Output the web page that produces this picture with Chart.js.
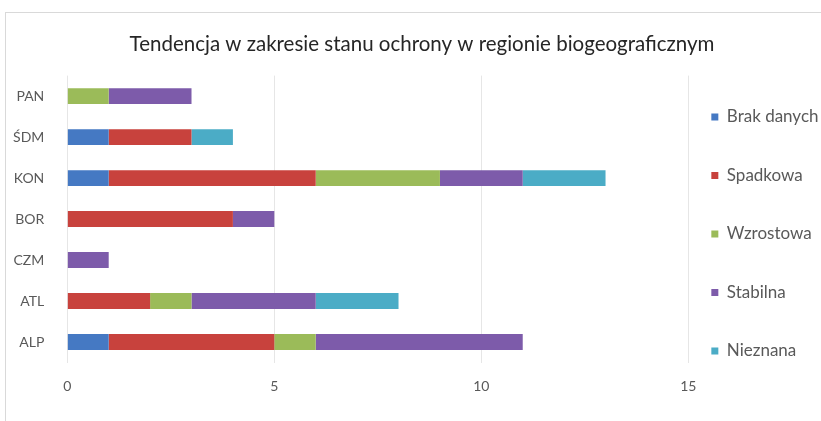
<!DOCTYPE html>
<html>
<head>
<meta charset="utf-8">
<script src="https://cdn.jsdelivr.net/npm/chart.js@4"></script>
<style>
  html, body { margin: 0; padding: 0; overflow: hidden; background: #fff; }
  #box { position: absolute; left: 5px; top: 12px; width: 830px; height: 420px; border: 1px solid #d9d9d9; }
</style>
</head>
<body>
<div id="box"><canvas id="myChart" width="830" height="404"></canvas></div>
<script>
// regions (top to bottom as in the picture)
const regions = ['PAN', 'ŚDM', 'KON', 'BOR', 'CZM', 'ATL', 'ALP'];

// number of habitats per trend category
const brakDanych = [0, 1, 1, 0, 0, 0, 1];
const spadkowa   = [0, 2, 5, 4, 0, 2, 4];
const wzrostowa  = [1, 0, 3, 0, 0, 1, 1];
const stabilna   = [2, 0, 2, 1, 1, 3, 5];
const nieznana   = [0, 1, 2, 0, 0, 2, 0];

const xTicks = [0, 5, 10, 15];

const font = "Lato, 'Open Sans', sans-serif";

function ds(label, data, color) {
    return { label: label, data: data, backgroundColor: color, barPercentage: 0.9, categoryPercentage: 0.43 };
}

// move the legend closer to the plot and up, like the Excel original,
// and keep the title centred on the whole frame
const legendShift = {
    id: 'legendShift',
    afterLayout(chart) {
        const lg = chart.legend;
        lg.left = chart.chartArea.right + 23 - 41.5;
        lg.top = 54;
        chart.titleBlock.left = 0;
        chart.titleBlock.right = 832;
    }
};

const ctx = document.getElementById('myChart').getContext('2d');

new Chart(ctx, {
    type: 'bar',
    data: {
        labels: regions,
        datasets: [
            ds('Brak danych', brakDanych, '#4579C3'),
            ds('Spadkowa', spadkowa, '#C8423D'),
            ds('Wzrostowa', wzrostowa, '#9BBB59'),
            ds('Stabilna', stabilna, '#7D5BAA'),
            ds('Nieznana', nieznana, '#4BACC6')
        ]
    },
    plugins: [legendShift],
    options: {
        indexAxis: 'y',
        responsive: false,
        animation: false,
        devicePixelRatio: 1,
        layout: { padding: { left: 5, top: 0, bottom: 0, right: -11 } },
        scales: {
            x: {
                stacked: true,
                min: 0,
                max: 15,
                afterBuildTicks: axis => { axis.ticks = xTicks.map(v => ({ value: v })); },
                afterFit: axis => { axis.height = 54.5; },
                grid: { color: '#e6e6e6', drawTicks: false },
                border: { display: false },
                ticks: { color: '#595959', font: { family: font, size: 14 }, padding: 16 }
            },
            y: {
                stacked: true,
                afterFit: axis => { axis.width = 56.3; },
                grid: { display: false, drawTicks: false },
                border: { display: false },
                ticks: { color: '#595959', font: { family: font, size: 14 }, padding: 23 }
            }
        },
        plugins: {
            title: {
                display: true,
                text: 'Tendencja w zakresie stanu ochrony w regionie biogeograficznym',
                color: '#262626',
                font: { family: font, size: 20.5, weight: 'normal' },
                padding: { top: 19, bottom: 19 }
            },
            legend: {
                position: 'right',
                align: 'start',
                labels: {
                    color: '#595959',
                    font: { family: font, size: 17 },
                    boxWidth: 7,
                    boxHeight: 7,
                    padding: 41.5
                }
            },
            tooltip: { enabled: false }
        }
    }
});
</script>
</body>
</html>
